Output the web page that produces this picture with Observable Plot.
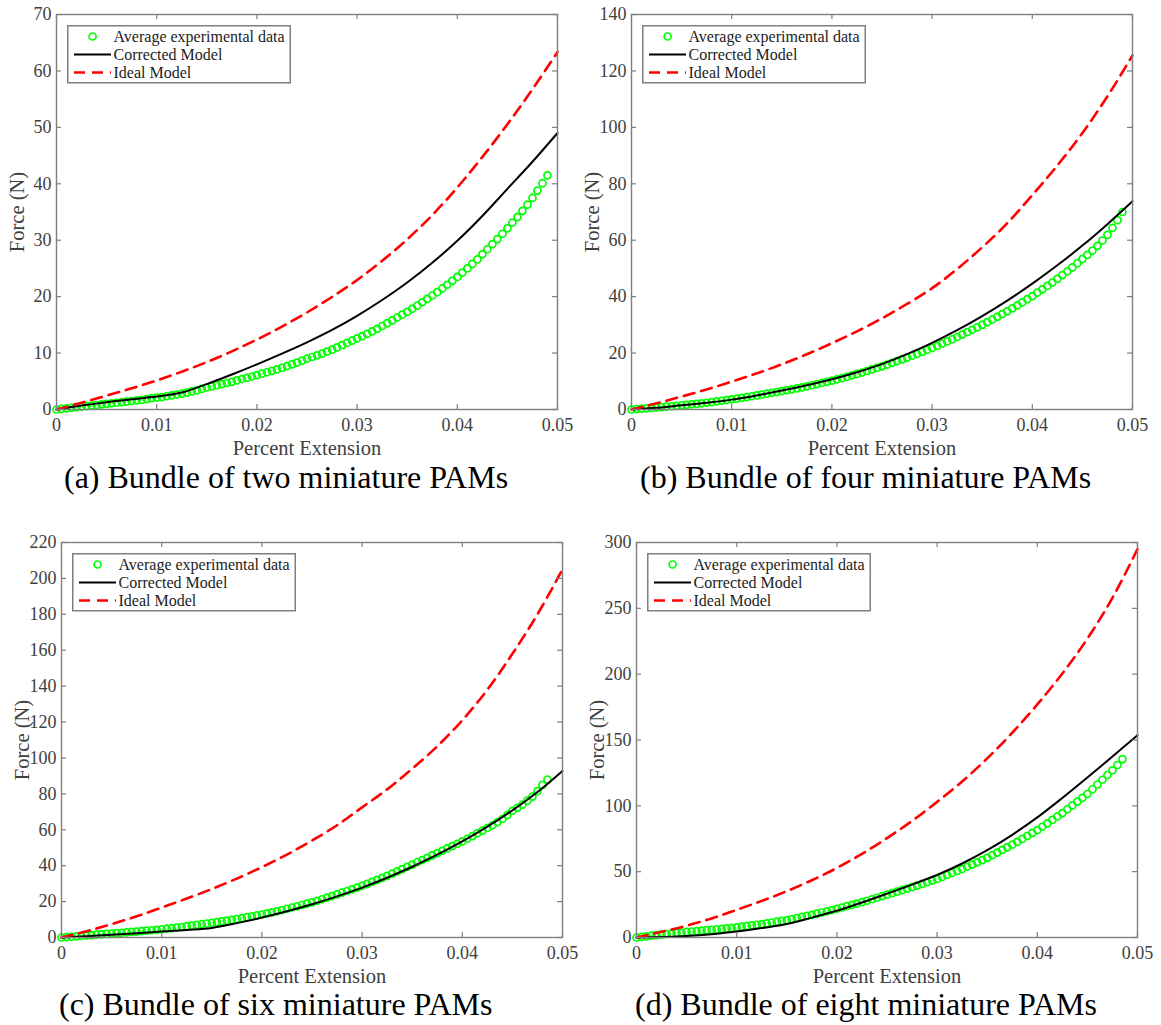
<!DOCTYPE html>
<html><head><meta charset="utf-8">
<script src="https://cdn.jsdelivr.net/npm/d3@7"></script>
<script src="https://cdn.jsdelivr.net/npm/@observablehq/plot@0.6"></script>
<style>
body{margin:0;background:#fff;width:1161px;height:1025px;position:relative;overflow:hidden;font-family:"Liberation Serif","Times New Roman",serif;}
.panel{position:absolute;width:580px;height:460px;}
.caption{position:absolute;font-size:32px;color:#000;white-space:nowrap;line-height:1;}
.legend{position:absolute;}
</style></head><body>
<script>
// ---- data ----
const extension = [0,0.0005,0.001,0.0015,0.002,0.0025,0.003,0.0035,0.004,0.0045,
0.005,0.0055,0.006,0.0065,0.007,0.0075,0.008,0.0085,0.009,0.0095,
0.01,0.0105,0.011,0.0115,0.012,0.0125,0.013,0.0135,0.014,0.0145,
0.015,0.0155,0.016,0.0165,0.017,0.0175,0.018,0.0185,0.019,0.0195,
0.02,0.0205,0.021,0.0215,0.022,0.0225,0.023,0.0235,0.024,0.0245,
0.025,0.0255,0.026,0.0265,0.027,0.0275,0.028,0.0285,0.029,0.0295,
0.03,0.0305,0.031,0.0315,0.032,0.0325,0.033,0.0335,0.034,0.0345,
0.035,0.0355,0.036,0.0365,0.037,0.0375,0.038,0.0385,0.039,0.0395,
0.04,0.0405,0.041,0.0415,0.042,0.0425,0.043,0.0435,0.044,0.0445,
0.045,0.0455,0.046,0.0465,0.047,0.0475,0.048,0.0485,0.049];

const modelExtension = [0,0.0025,0.005,0.0075,0.01,0.0125,0.015,0.0175,0.02,0.0225,0.025,
0.0275,0.03,0.0325,0.035,0.0375,0.04,0.0425,0.045,0.0475,0.05];

// (a) two PAMs
const expA = [0,0.1,0.2,0.3,0.4,0.5,0.6,0.7,0.8,0.9,
1.0,1.1,1.2,1.3,1.4,1.5,1.6,1.7,1.85,2.0,
2.1,2.2,2.35,2.5,2.65,2.8,3.0,3.2,3.4,3.65,
3.9,4.1,4.3,4.5,4.7,4.9,5.15,5.4,5.6,5.85,
6.1,6.35,6.6,6.85,7.1,7.4,7.7,8.0,8.3,8.65,
9.0,9.3,9.6,9.9,10.25,10.6,11.0,11.4,11.8,12.2,
12.6,13.0,13.4,13.85,14.3,14.8,15.3,15.8,16.3,16.8,
17.3,17.85,18.4,19.0,19.6,20.2,20.8,21.45,22.1,22.8,
23.5,24.25,25.0,25.8,26.6,27.5,28.4,29.3,30.2,31.15,
32.1,33.1,34.1,35.2,36.3,37.5,38.8,40.1,41.5];
const correctedA = [0,0.7,1.3,1.8,2.3,3.0,4.5,6.2,8.0,9.9,11.9,14.1,16.6,19.4,22.5,26.0,29.9,34.3,39.1,43.9,49.0];
const idealA = [0,1.2,2.45,3.75,5.15,6.7,8.4,10.3,12.4,14.7,17.2,19.95,22.95,26.35,30.15,34.45,39.35,44.75,50.55,56.75,63.35];

// (b) four PAMs
const expB = [0,0.15,0.3,0.4,0.55,0.7,0.85,1.0,1.15,1.3,
1.5,1.65,1.85,2.0,2.2,2.4,2.6,2.85,3.1,3.35,
3.6,3.85,4.15,4.4,4.7,5.0,5.3,5.6,5.9,6.2,
6.5,6.85,7.15,7.5,7.85,8.2,8.6,9.0,9.4,9.8,
10.2,10.65,11.1,11.6,12.1,12.6,13.1,13.65,14.2,14.75,
15.3,15.9,16.5,17.15,17.75,18.4,19.05,19.7,20.4,21.1,
21.8,22.55,23.3,24.1,24.9,25.7,26.55,27.4,28.25,29.1,
30.0,30.95,31.9,32.85,33.8,34.8,35.85,36.9,38.0,39.1,
40.2,41.4,42.6,43.8,45.0,46.3,47.65,49.0,50.4,51.85,
53.3,54.8,56.3,58.0,59.9,61.9,64.4,67.1,70.0];
const correctedB = [0,0.6,1.5,2.4,3.5,5.0,6.7,8.6,10.7,13.2,16.1,19.6,23.6,28.1,33.1,38.6,44.6,51.1,58.1,65.7,73.8];
const idealB = [0,2.2,4.6,7.1,9.9,12.8,16.0,19.6,23.5,27.7,32.3,37.4,43.0,49.8,57.5,66.0,76.0,86.5,98.0,111.0,125.5];

// (c) six PAMs
const expC = [0,0.2,0.4,0.65,0.9,1.1,1.3,1.55,1.75,2.0,
2.2,2.4,2.65,2.85,3.1,3.3,3.55,3.8,4.05,4.3,
4.6,4.9,5.2,5.5,5.85,6.2,6.6,7.0,7.4,7.8,
8.2,8.6,9.0,9.45,9.85,10.3,10.8,11.3,11.8,12.3,
12.8,13.4,14.0,14.6,15.3,16.0,16.7,17.4,18.1,18.85,
19.6,20.45,21.3,22.2,23.1,24.0,24.95,25.9,26.85,27.8,
28.8,29.9,31.0,32.1,33.2,34.3,35.55,36.8,38.05,39.3,
40.6,41.9,43.15,44.4,45.7,47.0,48.3,49.6,50.9,52.2,
53.5,55.0,56.5,58.0,59.5,61.0,62.5,64.2,66.0,68.2,
70.5,72.2,74.0,76.2,78.5,81.5,85.0,88.0];
const correctedC = [0,0.7,1.5,2.4,3.3,4.2,5.3,8.0,11.1,14.6,18.5,22.9,27.8,33.3,39.4,46.1,53.5,61.7,70.8,81.0,92.8];
const idealC = [0,3.5,7.4,11.8,16.7,21.7,27.0,32.8,39.2,46.2,54.0,62.5,72.5,82.5,94.0,106.5,121.0,138.0,158.0,180.0,205.0];

// (d) eight PAMs
const expD = [0,0.5,0.9,1.35,1.8,2.2,2.6,3.0,3.4,3.8,
4.2,4.55,4.9,5.2,5.55,5.9,6.25,6.6,6.95,7.3,
7.7,8.2,8.7,9.2,9.7,10.2,10.8,11.4,12.0,12.6,
13.2,14.0,14.8,15.6,16.4,17.2,18.1,19.0,19.9,20.85,
21.8,22.8,23.8,24.8,25.8,26.8,27.9,29.05,30.2,31.35,
32.5,33.65,34.8,35.95,37.05,38.2,39.45,40.7,41.95,43.2,
44.5,46.0,47.5,49.0,50.5,52.0,53.7,55.4,57.1,58.8,
60.5,62.5,64.5,66.5,68.5,70.5,72.7,74.9,77.1,79.3,
81.5,84.1,86.7,89.3,91.9,94.5,97.4,100.3,103.2,106.1,
109.0,112.6,116.2,119.8,123.4,127.0,131.0,135.5];
const correctedD = [0,0.4,1.1,2.5,4.6,7.2,10.2,15.1,20.3,26.6,33.3,40.2,47.5,56.2,66.3,78.0,91.2,106.0,121.5,137.4,153.7];
const idealD = [0,4.3,8.9,14.5,21.0,27.8,35.2,43.5,52.8,63.5,75.5,88.5,103.0,118.5,136.0,155.5,177.0,200.5,227.0,258.0,295.0];

const xTicks = [0,0.01,0.02,0.03,0.04,0.05];
const yTicksA = [0,10,20,30,40,50,60,70];
const yTicksB = [0,20,40,60,80,100,120,140];
const yTicksC = [0,20,40,60,80,100,120,140,160,180,200,220];
const yTicksD = [0,50,100,150,200,250,300];
const captions = ["(a) Bundle of two miniature PAMs","(b) Bundle of four miniature PAMs",
                  "(c) Bundle of six miniature PAMs","(d) Bundle of eight miniature PAMs"];
const legendLabels = ["Average experimental data","Corrected Model","Ideal Model"];
const xLabel = "Percent Extension";
const yLabel = "Force (N)";

// ---- layout ----
const panels = [
  {exp: expA, corr: correctedA, ideal: idealA, yTicks: yTicksA, left: 0,   top: 0,   capLeft: 64,  capTop: 461},
  {exp: expB, corr: correctedB, ideal: idealB, yTicks: yTicksB, left: 575, top: 0,   capLeft: 640, capTop: 461},
  {exp: expC, corr: correctedC, ideal: idealC, yTicks: yTicksC, left: 5,   top: 528, capLeft: 59,  capTop: 988},
  {exp: expD, corr: correctedD, ideal: idealD, yTicks: yTicksD, left: 580, top: 528, capLeft: 635, capTop: 988}
];

const W = 580, H = 460, ML = 56, MR = 23, MT = 14, MB = 51;
const axisGray = "#7f7f7f";
const textGray = "#404040";
const serif = "Liberation Serif, Times New Roman, serif";

function makePlot(p) {
  const yMax = p.yTicks[p.yTicks.length - 1];
  const xMax = xTicks[xTicks.length - 1];
  const expData = p.exp.map((f, i) => ({x: extension[i], y: f}));
  const model = modelExtension.map((x, i) => ({x, c: p.corr[i], id: p.ideal[i]}));
  const tx = xMax * 5 / (W - ML - MR);
  const ty = yMax * 5 / (H - MT - MB);
  return Plot.plot({
    width: W, height: H,
    marginLeft: ML, marginRight: MR, marginTop: MT, marginBottom: MB,
    style: {fontFamily: serif, fontSize: "18px", color: textGray, background: "transparent", overflow: "visible"},
    x: {domain: [0, xMax], ticks: xTicks, tickSize: 0, tickPadding: 9, label: null, tickFormat: d => d === 0 ? "0" : d3.format(".2f")(d)},
    y: {domain: [0, yMax], ticks: p.yTicks, tickSize: 0, tickPadding: 5, label: null},
    marks: [
      Plot.dot(expData, {x: "x", y: "y", r: 3.5, stroke: "#00ff00", strokeWidth: 1.7, fill: "none"}),
      Plot.line(model, {x: "x", y: "c", stroke: "#000", strokeWidth: 2, curve: "monotone-x"}),
      Plot.line(model, {x: "x", y: "id", stroke: "#ff0000", strokeWidth: 2.6, strokeDasharray: "11,7", curve: "monotone-x"}),
      Plot.ruleX(xTicks, {x: d => d, y1: () => 0, y2: () => ty, stroke: axisGray, strokeWidth: 1.2}),
      Plot.ruleX(xTicks, {x: d => d, y1: () => yMax, y2: () => yMax - ty, stroke: axisGray, strokeWidth: 1.2}),
      Plot.ruleY(p.yTicks, {y: d => d, x1: () => 0, x2: () => tx, stroke: axisGray, strokeWidth: 1.2}),
      Plot.ruleY(p.yTicks, {y: d => d, x1: () => xMax, x2: () => xMax - tx, stroke: axisGray, strokeWidth: 1.2}),
      Plot.frame({stroke: axisGray, strokeWidth: 1.4}),
      Plot.text([xLabel], {frameAnchor: "bottom", lineAnchor: "middle", textAnchor: "middle", dy: 39, fontSize: 20.5, fontFamily: serif, fill: textGray}),
      Plot.text([yLabel], {frameAnchor: "left", lineAnchor: "middle", textAnchor: "middle", dx: -39, rotate: -90, fontSize: 20.5, fontFamily: serif, fill: textGray})
    ]
  });
}

function makeLegend() {
  const svg = d3.create("svg").attr("width", 226).attr("height", 60)
    .style("font-family", serif).style("font-size", "16px");
  svg.append("rect").attr("x", 0.75).attr("y", 0.75).attr("width", 222.5).attr("height", 57)
    .attr("fill", "#fff").attr("stroke", axisGray).attr("stroke-width", 1.5);
  const rows = [11.5, 29.5, 47.5];
  svg.append("circle").attr("cx", 25.6).attr("cy", rows[0]).attr("r", 3.5)
    .attr("fill", "none").attr("stroke", "#00ff00").attr("stroke-width", 1.7);
  svg.append("line").attr("x1", 7).attr("x2", 44).attr("y1", rows[1]).attr("y2", rows[1])
    .attr("stroke", "#000").attr("stroke-width", 2);
  svg.append("line").attr("x1", 7).attr("x2", 44).attr("y1", rows[2]).attr("y2", rows[2])
    .attr("stroke", "#ff0000").attr("stroke-width", 2.6).attr("stroke-dasharray", "11,7");
  legendLabels.forEach((t, i) => {
    svg.append("text").attr("x", 46.5).attr("y", rows[i]).attr("dy", "0.34em")
      .attr("fill", "#222").text(t);
  });
  return svg.node();
}

panels.forEach((p, i) => {
  const div = document.createElement("div");
  div.className = "panel";
  div.style.left = p.left + "px";
  div.style.top = p.top + "px";
  div.appendChild(makePlot(p));
  const leg = document.createElement("div");
  leg.className = "legend";
  leg.style.left = (ML + 11) + "px";
  leg.style.top = (MT + 11) + "px";
  leg.appendChild(makeLegend());
  div.appendChild(leg);
  document.body.appendChild(div);
  const cap = document.createElement("div");
  cap.className = "caption";
  cap.style.left = p.capLeft + "px";
  cap.style.top = p.capTop + "px";
  cap.textContent = captions[i];
  document.body.appendChild(cap);
});
</script>
</body></html>
